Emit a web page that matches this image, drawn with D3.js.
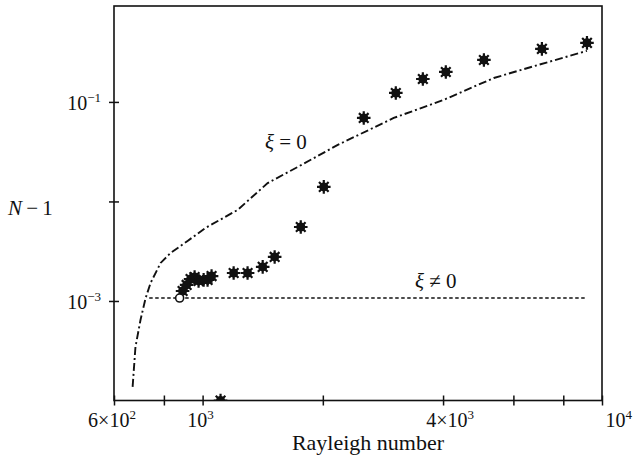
<!DOCTYPE html>
<html>
<head>
<meta charset="utf-8">
<script src="https://cdn.jsdelivr.net/npm/d3@7"></script>
<style>
  body { margin: 0; background: #fff; }
  svg, svg text, svg tspan { font-family: "Liberation Serif", "Times New Roman", Times, serif; }
</style>
</head>
<body>
<div id="chart"></div>
<script>
// measured points (Rayleigh number, N-1)
const starRa = [891, 912, 933, 955, 977, 1006, 1029, 1053, 1196, 1296, 1414, 1515, 1761, 2011, 2532, 3046, 3560, 4064, 5062, 7072, 9170, 1109];
const starN = [1.26e-3, 1.45e-3, 1.66e-3, 1.74e-3, 1.59e-3, 1.63e-3, 1.63e-3, 1.78e-3, 1.91e-3, 1.91e-3, 2.2e-3, 2.77e-3, 5.54e-3, 1.4e-2, 6.9e-2, 0.123, 0.17, 0.2, 0.264, 0.341, 0.392, 1e-4];
const circleRa = [876];
const circleN = [1.07e-3];

// theory xi = 0 (dash-dot)
const xi0Ra = [668, 679, 699, 720, 741, 785, 831, 917, 1017, 1224, 1455, 1730, 2180, 3010, 4018, 5360, 6915, 9170];
const xi0N = [1.37e-4, 3.45e-4, 6.44e-4, 1.07e-3, 1.52e-3, 2.41e-3, 3.03e-3, 4.01e-3, 5.42e-3, 8.22e-3, 1.53e-2, 2.22e-2, 3.7e-2, 6.9e-2, 0.105, 0.174, 0.235, 0.326];

// theory xi != 0 (dotted)
const xiNRa = [735, 9170];
const xiNN = [1.07e-3, 1.07e-3];

const xTicks = [600, 800, 1000, 2000, 4000, 6000, 8000, 10000];
const xLabels = ['6×10^2', '', '10^3', '', '4×10^3', '', '', '10^4'];
const yTicks = [1e-1, 1e-2, 1e-3];
const yLabels = ['10^−1', '', '10^−3'];

const W = 633, H = 465;
const plot = { left: 114, right: 602, top: 6, bottom: 400.5 };
const FONT = '"Liberation Serif", "Times New Roman", Times, serif';

const svg = d3.select('#chart').append('svg')
  .attr('width', W).attr('height', H)
  .style('font-family', FONT);

const x = d3.scaleLog().domain([600, 10000]).range([plot.left, plot.right]);
const y = d3.scaleLog().domain([1e-4, 0.92]).range([plot.bottom, plot.top]);

svg.append('clipPath').attr('id', 'clip')
  .append('rect')
  .attr('x', plot.left).attr('y', plot.top)
  .attr('width', plot.right - plot.left).attr('height', plot.bottom - plot.top);

// frame
svg.append('rect')
  .attr('x', plot.left).attr('y', plot.top)
  .attr('width', plot.right - plot.left).attr('height', plot.bottom - plot.top)
  .attr('fill', 'none').attr('stroke', '#111').attr('stroke-width', 1.6);

// superscript label helper
const writeLabel = (sel, label) => {
  const [base, exp] = label.split('^');
  sel.append('tspan').text(base);
  if (exp) sel.append('tspan').text(exp).style('font-size', '13px').attr('dy', -8);
};

const addText = (xp, yp, size) => svg.append('text')
  .attr('x', xp).attr('y', yp)
  .style('font-family', FONT)
  .attr('font-size', size)
  .attr('fill', '#111');

// x axis
const xAxis = svg.append('g')
  .attr('transform', `translate(0,${plot.bottom})`)
  .call(d3.axisBottom(x).tickValues(xTicks).tickSize(5).tickFormat(''));
xAxis.select('.domain').remove();
xAxis.selectAll('.tick line').attr('y1', -5).attr('stroke', '#111').attr('stroke-width', 1.5);
xTicks.forEach((v, i) => {
  if (!xLabels[i]) return;
  const last = v === 10000;
  const t = addText(last ? 632 : x(v) + (v === 4000 ? 7 : -2), 427, 20)
    .attr('text-anchor', last ? 'end' : 'middle');
  writeLabel(t, xLabels[i]);
});

// y axis
const yAxis = svg.append('g')
  .attr('transform', `translate(${plot.left},0)`)
  .call(d3.axisLeft(y).tickValues(yTicks).tickSize(5).tickFormat(''));
yAxis.select('.domain').remove();
yAxis.selectAll('.tick line').attr('x1', 5).attr('stroke', '#111').attr('stroke-width', 1.5);
yTicks.forEach((v, i) => {
  if (!yLabels[i]) return;
  const t = addText(101, y(v) + 8, 20).attr('text-anchor', 'end');
  writeLabel(t, yLabels[i]);
});

// axis titles
addText(368, 450, 22).attr('text-anchor', 'middle').text('Rayleigh number');

const nt = addText(8, 215, 21);
nt.append('tspan').style('font-style', 'italic').text('N');
nt.append('tspan').text('\u2009−\u20091');

const body = svg.append('g').attr('clip-path', 'url(#clip)');

const line = d3.line().x((d) => x(d[0])).y((d) => y(d[1]));

body.append('path')
  .attr('d', line(d3.zip(xi0Ra, xi0N)))
  .attr('fill', 'none')
  .attr('stroke', '#111')
  .attr('stroke-width', 1.9)
  .attr('stroke-dasharray', '8,3,2,3');

body.append('path')
  .attr('d', line(d3.zip(xiNRa, xiNN)))
  .attr('fill', 'none')
  .attr('stroke', '#111')
  .attr('stroke-width', 1.4)
  .attr('stroke-dasharray', '3.5,2.5');

// asterisk markers
const spokes = (r) => {
  const p = d3.path();
  for (let k = 0; k < 8; k++) {
    const a = k * Math.PI / 4;
    p.moveTo(0, 0);
    p.lineTo(r * Math.cos(a), r * Math.sin(a));
  }
  return p.toString();
};
const stars = body.selectAll('.star')
  .data(d3.zip(starRa, starN))
  .enter()
  .append('g')
  .attr('class', 'star')
  .attr('transform', (d) => `translate(${x(d[0])},${y(d[1])})`);
stars.append('circle').attr('r', 4.5).attr('fill', '#111');
stars.append('path').attr('d', spokes(6.8)).attr('stroke', '#111').attr('stroke-width', 2.2);

body.selectAll('.open')
  .data(d3.zip(circleRa, circleN))
  .enter()
  .append('circle')
  .attr('class', 'open')
  .attr('cx', (d) => x(d[0]))
  .attr('cy', (d) => y(d[1]))
  .attr('r', 4)
  .attr('fill', '#fff')
  .attr('stroke', '#111')
  .attr('stroke-width', 1.6);

// curve labels
const l0 = addText(265, 149, 21);
l0.append('tspan').style('font-style', 'italic').text('ξ');
l0.append('tspan').text(' = 0');

const l1 = addText(415, 288, 21);
l1.append('tspan').style('font-style', 'italic').text('ξ');
l1.append('tspan').text(' ≠ 0');
</script>
</body>
</html>
